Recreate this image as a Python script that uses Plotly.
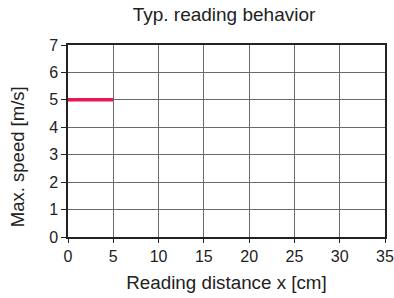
import plotly.graph_objects as go

distance_cm = [0, 5]
max_speed = [5, 5]
x_ticks = [0, 5, 10, 15, 20, 25, 30, 35]
y_ticks = [0, 1, 2, 3, 4, 5, 6, 7]

fig = go.Figure()
fig.add_trace(go.Scatter(x=distance_cm, y=max_speed, mode="lines",
                         line=dict(color="#e8194f", width=3.5), showlegend=False))

FAM = "Liberation Sans, Arial, Helvetica, sans-serif"
fig.update_layout(
    width=394, height=298,
    margin=dict(l=68, r=9, t=45, b=61, autoexpand=False),
    paper_bgcolor="white", plot_bgcolor="white",
    font=dict(family=FAM, size=16, color="#222"),
    title=dict(text="Typ. reading behavior", x=224/394, xanchor="center",
               y=1 - 14/298, yanchor="middle", font=dict(size=19, family=FAM, color="#222")),
    annotations=[dict(text="Max. speed [m/s]", textangle=-90, xref="paper", yref="paper",
                      x=-(68 - 17) / 317, y=(236.7 - 157) / 191.7, xanchor="center", yanchor="middle",
                      showarrow=False, font=dict(size=18.5, family=FAM, color="#222"))],
)
fig.update_xaxes(range=[0, 35], tickvals=x_ticks, showgrid=True, gridcolor="#6a6a6a", gridwidth=1,
                 showline=True, linecolor="#222", linewidth=1.5, mirror=True, automargin=False,
                 ticks="outside", ticklen=4, tickcolor="#222", zeroline=False,
                 tickfont=dict(size=16),
                 title=dict(text="Reading distance x [cm]", standoff=12, font=dict(size=18.8)))
fig.update_yaxes(range=[0, 7], tickvals=y_ticks, showgrid=True, gridcolor="#6a6a6a", gridwidth=1,
                 showline=True, linecolor="#222", linewidth=1.5, mirror=True, automargin=False,
                 ticks="outside", ticklen=5, tickcolor="#222", zeroline=False,
                 tickfont=dict(size=16))
fig.write_html("out.html", config={"displayModeBar": False},
               post_script="document.body.style.margin='0';document.body.style.overflow='hidden';")
